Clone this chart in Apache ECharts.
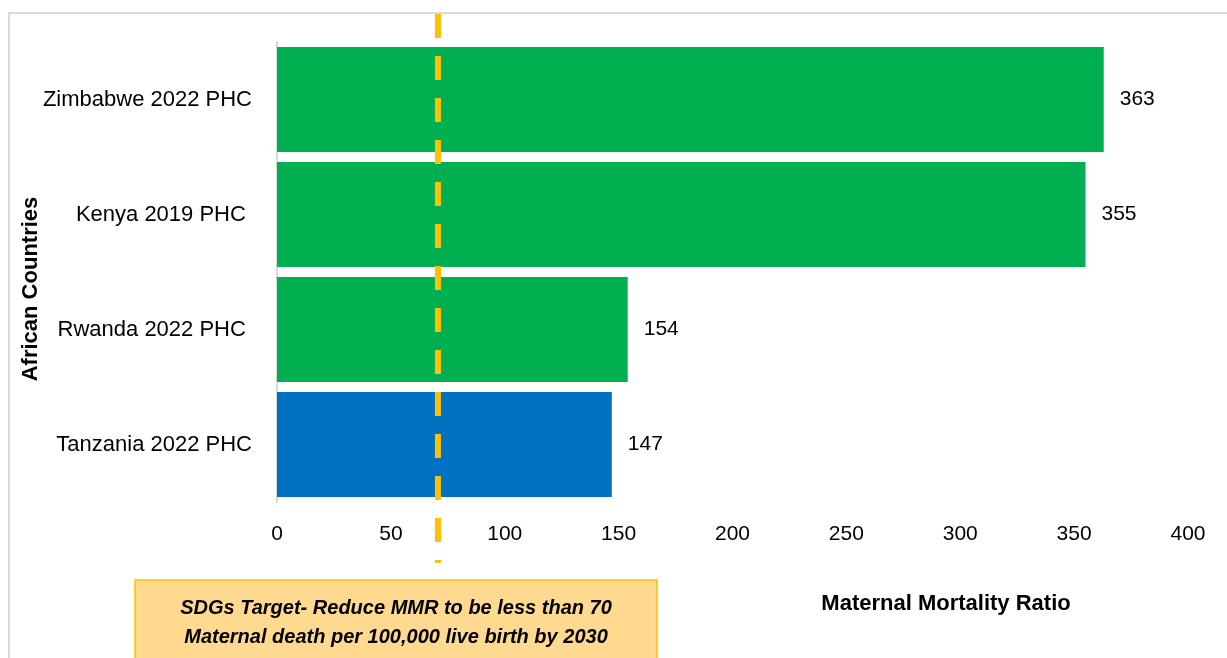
<!DOCTYPE html>
<html><head><meta charset="utf-8">
<script src="https://cdn.jsdelivr.net/npm/echarts@6/dist/echarts.min.js"></script>
<style>html,body{margin:0;padding:0;background:#fff}#c{width:1227px;height:658px}</style>
</head><body><div id="c"></div>
<script>
const categories = ['Tanzania 2022 PHC', 'Rwanda 2022 PHC ', 'Kenya 2019 PHC ', 'Zimbabwe 2022 PHC'];
const values = [147, 154, 355, 363];
const barColors = ['#0070C0', '#00B050', '#00B050', '#00B050'];
const targetValue = 70;
const xTicks = [0, 50, 100, 150, 200, 250, 300, 350, 400];

const chart = echarts.init(document.getElementById('c'), null, {renderer: 'canvas'});
const font = '"Liberation Sans", Arial, sans-serif';
chart.setOption({
  animation: false,
  grid: {left: 277, right: 39, top: 42, bottom: 156},
  xAxis: {
    type: 'value', min: xTicks[0], max: xTicks[xTicks.length - 1], interval: 50,
    axisLine: {show: false}, axisTick: {show: false}, splitLine: {show: false},
    axisLabel: {fontFamily: font, fontSize: 21, color: '#000', margin: 22}
  },
  yAxis: {
    type: 'category', data: categories,
    axisLine: {show: true, lineStyle: {color: '#d9d9d9', width: 2}},
    axisTick: {show: false},
    axisLabel: {fontFamily: font, fontSize: 22, color: '#000', margin: 25, padding: [5, 0, 0, 0]}
  },
  series: [{
    type: 'bar', data: values.map((v, i) => ({value: v, itemStyle: {color: barColors[i]}})),
    barCategoryGap: '8.7%',
    label: {show: true, position: 'right', distance: 16, fontFamily: font, fontSize: 21, color: '#000', padding: [2, 0, 0, 0]}
  }]
});

const px = chart.convertToPixel({xAxisIndex: 0}, targetValue) + 1.5;
chart.setOption({
  graphic: [
    {type: 'rect', silent: true, z: 0, shape: {x: 9, y: 13, width: 1240, height: 700}, style: {fill: 'none', stroke: '#d9d9d9', lineWidth: 2}},
    {type: 'line', z: 100, shape: {x1: px, y1: 14, x2: px, y2: 563}, style: {stroke: '#FFC000', lineWidth: 6, lineDash: [24, 18]}},
    {type: 'rect', z: 101, shape: {x: 135, y: 580, width: 522, height: 90}, style: {fill: '#FFD98F', stroke: '#FFC000', lineWidth: 1.5}},
    {type: 'text', z: 102, x: 396, y: 623, style: {text: 'SDGs Target- Reduce MMR to be less than 70\nMaternal death per 100,000 live birth by 2030', fontFamily: font, fontSize: 20, fontWeight: 'bold', fontStyle: 'italic', fill: '#000', align: 'center', verticalAlign: 'middle', lineHeight: 29}},
    {type: 'text', z: 102, x: 946, y: 604, style: {text: 'Maternal Mortality Ratio', fontFamily: font, fontSize: 22, fontWeight: 'bold', fill: '#000', align: 'center', verticalAlign: 'middle'}},
    {type: 'text', z: 102, x: 31, y: 289, rotation: Math.PI / 2, style: {text: 'African Countries', fontFamily: font, fontSize: 22, fontWeight: 'bold', fill: '#000', align: 'center', verticalAlign: 'middle'}}
  ]
});
</script></body></html>
